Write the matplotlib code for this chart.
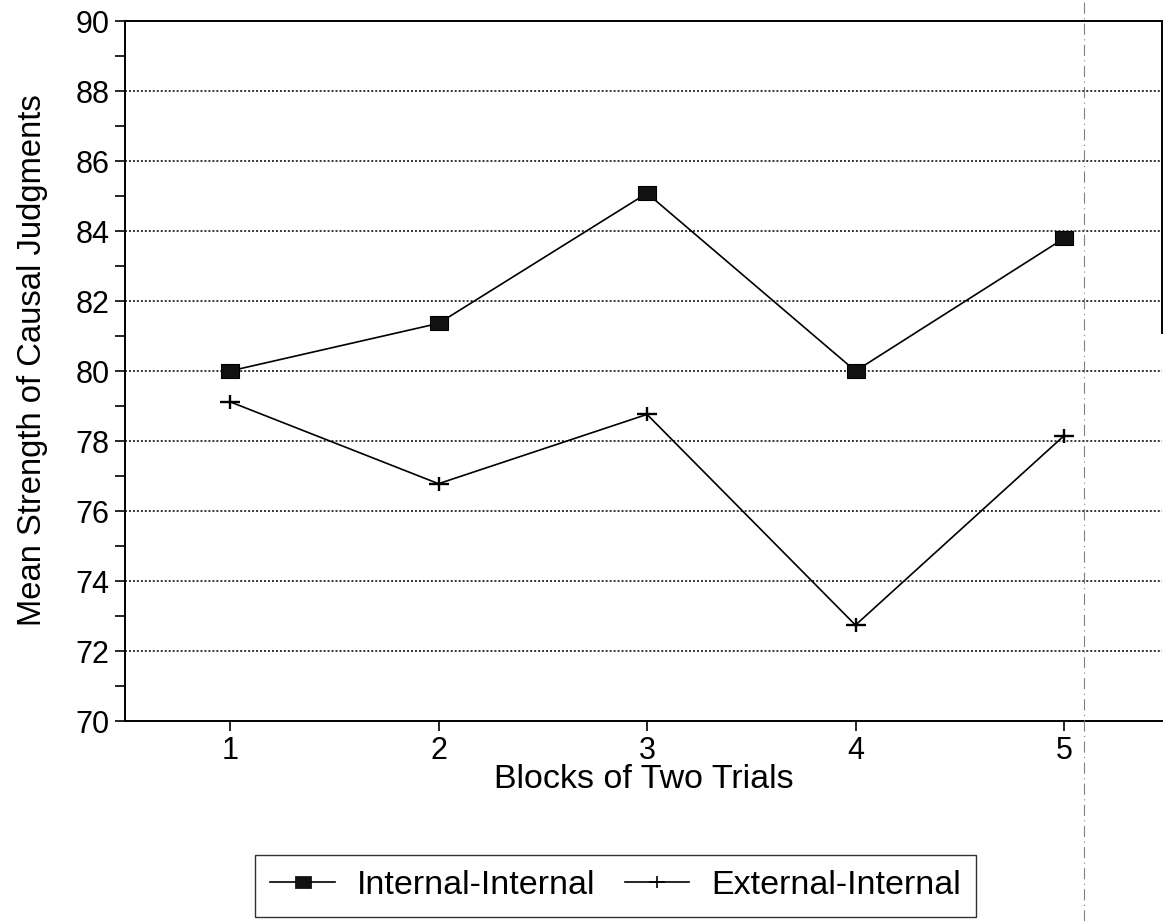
import matplotlib
matplotlib.use("Agg")
import matplotlib.pyplot as plt
from matplotlib.lines import Line2D
from matplotlib.path import Path

plt.rcParams['font.family'] = ['Liberation Sans', 'DejaVu Sans']

blocks = [1, 2, 3, 4, 5]
internal_internal = [80.0, 81.36, 85.08, 80.0, 83.79]
external_internal = [79.12, 76.78, 78.76, 72.74, 78.15]
yticks = [70, 72, 74, 76, 78, 80, 82, 84, 86, 88, 90]
yminor = [71, 73, 75, 77, 79, 81, 83, 85, 87, 89]
series_names = ["Internal-Internal", "External-Internal"]

# horizontally stretched markers (as in the scanned original)
rect_marker = Path([(-1.3, -1), (1.3, -1), (1.3, 1), (-1.3, 1), (-1.3, -1)],
                   [Path.MOVETO, Path.LINETO, Path.LINETO, Path.LINETO, Path.CLOSEPOLY])
plus_marker = Path([(-1.35, 0), (1.35, 0), (0, -1), (0, 1)],
                   [Path.MOVETO, Path.LINETO, Path.MOVETO, Path.LINETO])

W, H = 1163, 921
fig = plt.figure(figsize=(W/100, H/100), dpi=100)
ax = fig.add_axes([125/W, 1-721/H, (1162-125)/W, 700/H])

ax.plot(blocks, internal_internal, color='black', lw=1.2, marker=rect_marker,
        markersize=12.5, markerfacecolor='#111111', markeredgecolor='black',
        markeredgewidth=0.8, label=series_names[0], zorder=3)
ax.plot(blocks, external_internal, color='black', lw=1.2, marker=plus_marker,
        markersize=14, markeredgewidth=1.7, label=series_names[1], zorder=3)

ax.set_xlim(0.4964, 5.47)
ax.set_ylim(70, 90)
ax.set_yticks(yticks)
ax.set_yticks(yminor, minor=True)
ax.set_xticks(blocks)
ax.tick_params(axis='both', which='major', direction='out', length=7.5, width=1.2,
               labelsize=22, colors='black', pad=3.5)
ax.tick_params(axis='y', which='minor', direction='out', length=7.5, width=1.2)
for y in yticks[1:-1]:
    ax.axhline(y, color='black', lw=1.1, ls=(0, (1.3, 1.3)), zorder=1)

for s in ['left', 'bottom', 'top', 'right']:
    ax.spines[s].set_linewidth(1.4)
ax.spines['right'].set_bounds(81.1, 90)

ax.set_xlabel("Blocks of Two Trials", fontsize=24.5, labelpad=-2)
ax.set_ylabel("Mean Strength of Causal Judgments", fontsize=23.6, va='center')
ax.yaxis.set_label_coords((33-125)/1037, (721-360)/700)

# scanner artifact vertical dash-dot line
fig.add_artist(Line2D([1084/W, 1084/W], [0, 1], transform=fig.transFigure,
                      color='gray', lw=0.8, ls=(0, (10, 4, 1, 4))))

handles = [Line2D([], [], color='black', lw=1.2, marker=rect_marker, markersize=11,
                  markerfacecolor='#111111', markeredgewidth=0.5),
           Line2D([], [], color='black', lw=1.2, marker=plus_marker, markersize=11,
                  markeredgewidth=1.2)]
leg = fig.legend(handles, series_names, loc='upper left',
                 bbox_to_anchor=(255/W, 1-855/H), borderaxespad=0, ncol=2,
                 fontsize=24.5, frameon=True, fancybox=False, edgecolor='black',
                 handlelength=1.9, handletextpad=0.65, columnspacing=0.85,
                 borderpad=0.45)
leg.get_frame().set_linewidth(1.0)

fig.savefig("out.png", dpi=100)
